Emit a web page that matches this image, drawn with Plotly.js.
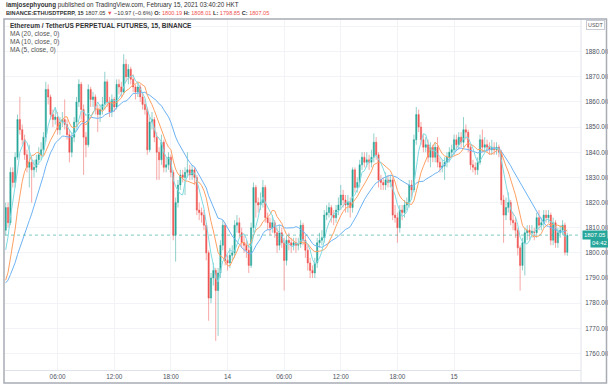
<!DOCTYPE html>
<html><head><meta charset="utf-8">
<script src="https://cdn.plot.ly/plotly-3.0.1.min.js"></script>
<style>html,body{margin:0;padding:0;background:#fff;}#chart{width:608px;height:387px;}</style>
</head><body><div id="chart"></div>
<script>
// ETHUSDTPERP 15-minute candles
const openP = [
1809,1818,1812,1832,1828,1838,1853,1849,1845,1839,
1834,1836,1833,1834,1837,1839,1841,1846,1865,1862,
1855,1853,1854,1849,1852,1853,1851,1847,1840,1846,
1852,1860,1867,1857,1846,1843,1865,1861,1862,1857,
1855,1857,1859,1868,1860,1856,1861,1858,1867,1866,
1864,1875,1870,1873,1869,1866,1864,1866,1862,1859,
1857,1841,1852,1853,1846,1840,1837,1844,1834,1835,
1838,1832,1807,1820,1827,1831,1830,1832,1833,1831,
1833,1830,1817,1816,1815,1811,1800,1782,1790,1793,
1785,1792,1803,1811,1797,1796,1799,1800,1811,1812,
1808,1804,1803,1801,1795,1810,1826,1820,1819,1820,
1826,1814,1812,1810,1812,1808,1803,1808,1804,1797,
1805,1804,1803,1804,1803,1803.5,1811,1805,1801,1796,
1793,1792,1796,1804,1805,1806,1815,1816,1818,1815,
1814,1817,1819,1823,1821,1819,1820,1818,1833,1826,
1828,1835,1838,1836,1837,1836,1838,1844,1839,1829,
1828,1827,1829,1828,1829,1815,1814,1810,1817,1816,
1819,1820,1827,1825,1845,1855,1850,1845,1842,1843,
1838,1842,1838,1842,1836,1834,1834.5,1836,1838,1840,
1841,1845,1843,1846,1844,1849,1848,1842,1835,1834,
1833,1836,1845,1842,1843,1842,1841,1842,1841,1842,
1840,1821,1815,1818,1820,1813,1812,1809,1802,1795,
1804,1808,1809,1808,1808.5,1808,1814,1811,1812,1815,
1814,1815,1805,1812,1804,1808,1809,1811,1800.19];
const highP = [
1820,1820,1834,1834,1840,1855,1862,1851,1847,1841,
1843,1838,1837,1839,1842,1844,1848,1868,1867,1863,
1857,1858,1856,1854,1856,1861,1853,1849,1848,1854,
1862,1869,1868,1859,1848,1867,1866,1864,1863,1859,
1859,1862,1872,1869,1862,1863,1862,1869,1869,1868,
1879,1877,1875,1874,1871,1867,1868,1867,1864,1861,
1858,1854,1856,1854,1848,1842,1847,1845,1838,1840,
1839,1833,1822,1829,1833,1833,1834,1840,1835,1835,
1834,1831,1820,1818,1817,1812,1801,1792,1796,1794,
1794,1805,1813,1812,1799,1802,1803,1813,1815,1814,
1810,1807,1805,1803,1812,1828,1827,1822,1824,1829,
1827,1816,1814,1815,1813,1810,1811,1810,1806,1807,
1808,1806,1806,1806,1806,1813,1812,1807,1803,1798,
1795,1798,1806,1808,1809,1817,1819,1820,1819,1817,
1819,1822,1827,1825,1823,1823,1822,1834,1834,1830,
1837,1840,1840,1840,1839,1841,1847.5,1846,1840,1831,
1830,1832,1831,1831,1830,1819,1816,1819,1819,1821,
1822,1829,1829,1847,1858,1857,1852,1847,1846,1845,
1844,1843,1844,1846,1838,1837,1838,1840,1842,1843,
1847,1847,1848,1848,1854,1851,1849,1843,1837,1836,
1838,1847,1849,1846,1845,1844,1845,1844,1844,1843,
1841,1823,1822,1824,1821,1816,1814,1810,1803,1806,
1810,1811,1811,1811,1810,1816,1817,1814,1817,1817,
1817,1816,1814,1813,1810,1811,1813,1812,1808.01];
const lowP = [
1807,1810,1811,1826,1826,1837,1847,1843,1837,1832,
1826,1820,1830,1832,1835,1837,1839,1844,1859,1853,
1850,1851,1847,1847,1850,1849,1845,1836,1838,1844,
1850,1858,1853,1831,1838,1842,1858,1858,1855,1848,
1852,1855,1857,1858,1854,1854,1856,1857,1863,1862,
1863,1868,1867,1867,1864,1861,1862,1860,1857,1855,
1839,1840,1849,1844,1829,1829,1835,1832,1832,1833,
1830,1805,1796.5,1818,1825,1828,1823,1830,1829,1829,
1827,1815,1813,1812,1809,1797,1773,1780,1787,1765,
1767,1790,1801,1795,1793,1794,1797,1798,1808,1806,
1802,1800,1798,1792,1794,1808,1814,1816,1817,1818,
1812,1809,1807,1808,1806,1800,1801,1802,1785,1795,
1801,1800,1801,1800,1801,1802,1803,1798,1793,1790,
1790,1790,1794,1802,1803,1804,1813,1814,1812,1811,
1812,1815,1817,1818,1816,1816,1814,1816,1824,1824,
1826,1833,1834,1834,1833,1834,1836,1837,1826,1825,
1825,1825,1826,1826,1813,1812,1804,1808,1813,1814,
1817,1818,1822,1824,1843,1848,1843,1840,1840,1836,
1834,1836,1836,1834,1832,1832,1829,1834,1836,1838,
1839,1841,1841,1842,1842,1845,1840,1833,1832,1831,
1831,1835,1840,1840,1840,1839,1839,1839,1839,1838,
1819,1804,1813,1816,1811,1809,1806,1799,1785,1793,
1791,1805,1805,1806,1805,1806,1809,1809,1810,1812,
1812,1803,1803,1802,1802,1806,1807,1799,1798.85];
const closeP = [
1818,1812,1832,1828,1838,1853,1849,1845,1839,1834,
1836,1833,1834,1837,1839,1841,1846,1865,1862,1855,
1853,1854,1849,1852,1853,1851,1847,1840,1846,1852,
1860,1867,1857,1846,1843,1865,1861,1862,1857,1855,
1857,1859,1868,1860,1856,1861,1858,1867,1866,1864,
1875,1870,1873,1869,1866,1864,1866,1862,1859,1857,
1841,1852,1853,1846,1840,1837,1844,1834,1835,1838,
1832,1807,1820,1827,1831,1830,1832,1833,1831,1833,
1830,1817,1816,1815,1811,1800,1782,1790,1793,1785,
1792,1803,1811,1797,1796,1799,1800,1811,1812,1808,
1804,1803,1801,1795,1810,1826,1820,1819,1820,1826,
1814,1812,1810,1812,1808,1803,1808,1804,1797,1805,
1804,1803,1804,1803,1803.5,1811,1805,1801,1796,1793,
1792,1796,1804,1805,1806,1815,1816,1818,1815,1814,
1817,1819,1823,1821,1819,1820,1818,1833,1826,1828,
1835,1838,1836,1837,1836,1838,1844,1839,1829,1828,
1827,1829,1828,1829,1815,1814,1810,1817,1816,1819,
1820,1827,1825,1845,1855,1850,1845,1842,1843,1838,
1842,1838,1842,1836,1834,1834.5,1836,1838,1840,1841,
1845,1843,1846,1844,1849,1848,1842,1835,1834,1833,
1836,1845,1842,1843,1842,1841,1842,1841,1842,1840,
1821,1815,1818,1820,1813,1812,1809,1802,1795,1804,
1808,1809,1808,1808.5,1808,1814,1811,1812,1815,1814,
1815,1805,1812,1804,1808,1809,1811,1800.19,1807.05];
// closes just before the visible window (seed the moving averages)
const preCloses = [1790,1788,1785,1786,1789,1791,1788,1784,1783,1786,1780,1776,1774,1777,1778,1786,1793,1800,1809];
const maPeriods = [20, 10, 5];
const maColors = ['#6db3f4', '#ffa062', '#80dbe3'];
const timeTickIndex = [22, 46, 70, 94, 118, 142, 166, 190];
const timeTickLabels = ['06:00','12:00','18:00','14','06:00','12:00','18:00','15'];
const priceTicks = [1760,1770,1780,1790,1800,1810,1820,1830,1840,1850,1860,1870,1880,1890];
const priceTickLabels = ['1760.00','1770.00','1780.00','1790.00','1800.00','1810.00','1820.00','1830.00','1840.00','1850.00','1860.00','1870.00','1880.00',''];
const headerLine1 = '<b>iamjosephyoung</b> published on TradingView.com, February 15, 2021 03:40:20 HKT';
const headerLine2 = '<b>BINANCE:ETHUSDTPERP, 15</b> 1807.05 <span style="color:#ef5350">▼</span> −10.97 (−0.6%) <b>O:</b> <span style="color:#ef5350">1800.19</span> <b>H:</b> <span style="color:#ef5350">1808.01</span> <b>L:</b> <span style="color:#ef5350">1798.85</span> <b>C:</b> <span style="color:#ef5350">1807.05</span>';
const legendTitle = 'Ethereum / TetherUS PERPETUAL FUTURES, 15, BINANCE';
const legendLines = ['MA (20, close, 0)', 'MA (10, close, 0)', 'MA (5, close, 0)'];
const countdown = '04:42';

const UP = '#26a69a', DOWN = '#ef5350';
const idx = closeP.map((_, i) => i);
const allCloses = preCloses.concat(closeP);
function sma(period) {
  return closeP.map((_, i) => {
    const end = preCloses.length + i;
    let s = 0;
    for (let k = end - period + 1; k <= end; k++) s += allCloses[k];
    return s / period;
  });
}

const traces = [];
maPeriods.forEach((p, j) => {
  traces.push({type:'scatter', mode:'lines', x: idx, y: sma(p),
    line:{color: maColors[j], width: 1}, hoverinfo:'skip', showlegend:false});
});
traces.push({
  type:'candlestick', x: idx, open: openP, high: highP, low: lowP, close: closeP,
  increasing:{line:{color:'rgba(38,166,154,0.5)', width:1}, fillcolor: UP},
  decreasing:{line:{color:'rgba(239,83,80,0.5)', width:1}, fillcolor: DOWN},
  whiskerwidth: 0, hoverinfo:'skip', showlegend:false
});

// pixel helpers for the frame (plot area: x 5..581, y 19..370)
const PL = 5, PR = 581, PT = 19, PB = 370;
const px = x => (x - PL) / (PR - PL);
const py = y => (PB - y) / (PB - PT);
const last = closeP[closeP.length - 1];
const font = 'Liberation Sans, Arial, sans-serif';

const annotations = [
  {xref:'paper', yref:'paper', x: px(4), y: py(5.5), xanchor:'left', yanchor:'middle', showarrow:false,
   text: headerLine1, font:{family:font, size:6.3, color:'#333'}},
  {xref:'paper', yref:'paper', x: px(4), y: py(13.5), xanchor:'left', yanchor:'middle', showarrow:false,
   text: headerLine2, font:{family:font, size:5.6, color:'#333'}},
  {xref:'paper', yref:'paper', x: px(8), y: py(26), xanchor:'left', yanchor:'middle', showarrow:false,
   text: '<b>' + legendTitle + '</b>', font:{family:font, size:6.5, color:'#333'}},
];
legendLines.forEach((t, j) => annotations.push({xref:'paper', yref:'paper', x: px(8), y: py(34 + 8 * j),
  xanchor:'left', yanchor:'middle', showarrow:false, text: t, font:{family:font, size:6.6, color:'#555'}}));
annotations.push({xref:'paper', yref:'paper', x: px(586), y: py(25), xanchor:'left', yanchor:'middle', showarrow:false,
  text:'USDT', font:{family:font, size:5.4, color:'#555'}, bgcolor:'#fff', bordercolor:'#c8cbd3', borderwidth:1, borderpad:1});
annotations.push({xref:'paper', yref:'y', x: px(582), y: last, xanchor:'left', yanchor:'middle', showarrow:false,
  text: last.toFixed(2), font:{family:font, size:5.9, color:'#fff'}, bgcolor: UP, borderpad:1});
annotations.push({xref:'paper', yref:'paper', x: px(590), y: py(243), xanchor:'left', yanchor:'middle', showarrow:false,
  text: countdown, font:{family:font, size:5.9, color:'#fff'}, bgcolor: UP, borderpad:1});

const shapes = [
  {type:'line', xref:'paper', yref:'y', x0:0, x1:1, y0:last, y1:last, line:{color:'rgba(38,166,154,0.6)', width:1, dash:'dot'}},
  {type:'line', xref:'paper', yref:'paper', x0:1, x1:1, y0:py(383), y1:1, line:{color:'#dfe2ea', width:1}},
  {type:'rect', xref:'paper', yref:'paper', x0:px(4), x1:px(606.5), y0:py(383), y1:py(19), line:{color:'#a9acb5', width:1.5}, fillcolor:'rgba(0,0,0,0)'}
];

const layout = {
  width:608, height:387, margin:{l:PL, r:608-PR, t:PT, b:387-PB},
  paper_bgcolor:'#fff', plot_bgcolor:'#fff', showlegend:false, dragmode:false,
  xaxis:{range:[-0.3, 243.8], tickvals: timeTickIndex, ticktext: timeTickLabels, showgrid:true, gridcolor:'#f1f3f7',
    zeroline:false, showline:true, linecolor:'#dfe2ea', linewidth:1, ticks:'', tickfont:{family:font, size:6.4, color:'#4c525e'},
    rangeslider:{visible:false}, fixedrange:true},
  yaxis:{side:'right', range:[1753.4, 1893], tickvals: priceTicks, ticktext: priceTickLabels, showgrid:true, gridcolor:'#f1f3f7',
    zeroline:false, showline:false, ticks:'outside', ticklen:2, tickcolor:'rgba(0,0,0,0)', tickfont:{family:font, size:6.4, color:'#4c525e'}, fixedrange:true},
  boxgap:0.25,
  annotations, shapes
};
Plotly.newPlot('chart', traces, layout, {displayModeBar:false, staticPlot:true});
</script>
</body></html>
